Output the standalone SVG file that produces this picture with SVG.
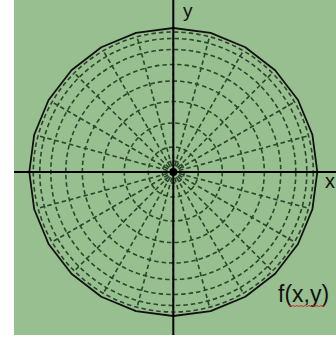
<svg xmlns="http://www.w3.org/2000/svg" width="336" height="337" viewBox="0 0 336 337">
<style>
.ring{fill:none;stroke:#2b472b;stroke-width:1.6;stroke-dasharray:4.5 3}
.ray{stroke:#2b472b;stroke-width:1.6;stroke-dasharray:4.5 3}
.axis{stroke:#000;stroke-width:2}
.lbl{font-family:"Liberation Sans",Arial,sans-serif;fill:#111}
</style>
<rect width="336" height="337" fill="#fff"/>
<rect x="14" y="0" width="322" height="335" fill="#98bf8f"/>
<g id="rings">
<circle class="ring" cx="173.3" cy="172" r="11" stroke-width="1.2" stroke-dasharray="2 1.5"/>
<circle class="ring" cx="173.3" cy="172" r="25"/>
<circle class="ring" cx="173.3" cy="172" r="49"/>
<circle class="ring" cx="173.3" cy="172" r="70.5"/>
<circle class="ring" cx="173.3" cy="172" r="91"/>
<circle class="ring" cx="173.3" cy="172" r="107.5"/>
<circle class="ring" cx="173.3" cy="172" r="122.5"/>
<circle class="ring" cx="173.3" cy="172" r="133.5"/>
<circle class="ring" cx="173.3" cy="172" r="140"/>
</g>
<g id="rays" transform="translate(173.3,172)">
<line class="ray" x1="6" y1="0" x2="141" y2="0"/>
<line class="ray" x1="6" y1="0" x2="141" y2="0" transform="rotate(15)"/>
<line class="ray" x1="6" y1="0" x2="141" y2="0" transform="rotate(30)"/>
<line class="ray" x1="6" y1="0" x2="141" y2="0" transform="rotate(45)"/>
<line class="ray" x1="6" y1="0" x2="141" y2="0" transform="rotate(60)"/>
<line class="ray" x1="6" y1="0" x2="141" y2="0" transform="rotate(75)"/>
<line class="ray" x1="6" y1="0" x2="141" y2="0" transform="rotate(90)"/>
<line class="ray" x1="6" y1="0" x2="141" y2="0" transform="rotate(105)"/>
<line class="ray" x1="6" y1="0" x2="141" y2="0" transform="rotate(120)"/>
<line class="ray" x1="6" y1="0" x2="141" y2="0" transform="rotate(135)"/>
<line class="ray" x1="6" y1="0" x2="141" y2="0" transform="rotate(150)"/>
<line class="ray" x1="6" y1="0" x2="141" y2="0" transform="rotate(165)"/>
<line class="ray" x1="6" y1="0" x2="141" y2="0" transform="rotate(180)"/>
<line class="ray" x1="6" y1="0" x2="141" y2="0" transform="rotate(195)"/>
<line class="ray" x1="6" y1="0" x2="141" y2="0" transform="rotate(210)"/>
<line class="ray" x1="6" y1="0" x2="141" y2="0" transform="rotate(225)"/>
<line class="ray" x1="6" y1="0" x2="141" y2="0" transform="rotate(240)"/>
<line class="ray" x1="6" y1="0" x2="141" y2="0" transform="rotate(255)"/>
<line class="ray" x1="6" y1="0" x2="141" y2="0" transform="rotate(270)"/>
<line class="ray" x1="6" y1="0" x2="141" y2="0" transform="rotate(285)"/>
<line class="ray" x1="6" y1="0" x2="141" y2="0" transform="rotate(300)"/>
<line class="ray" x1="6" y1="0" x2="141" y2="0" transform="rotate(315)"/>
<line class="ray" x1="6" y1="0" x2="141" y2="0" transform="rotate(330)"/>
<line class="ray" x1="6" y1="0" x2="141" y2="0" transform="rotate(345)"/>
</g>
<polygon id="boundary" fill="none" stroke="#111" stroke-width="1.8" stroke-linejoin="round" points="317.3,172 312.39,134.73 298.01,100 275.12,70.18 245.3,47.29 210.57,32.91 173.3,28 136.03,32.91 101.3,47.29 71.48,70.18 48.59,100 34.21,134.73 29.3,172 34.21,209.27 48.59,244 71.48,273.82 101.3,296.71 136.03,311.09 173.3,316 210.57,311.09 245.3,296.71 275.12,273.82 298.01,244 312.39,209.27"/>
<g id="axes">
<line class="axis" x1="173.3" y1="0" x2="173.3" y2="335"/>
<line class="axis" x1="14" y1="172" x2="336" y2="172"/>
<circle cx="173.3" cy="172" r="4" fill="#000"/>
</g>
<g id="labels">
<text class="lbl" x="183" y="17" font-size="19">y</text>
<text class="lbl" x="325" y="188" font-size="20">x</text>
<text class="lbl" x="278" y="302" font-size="23">f(x,y)</text>
<path d="M289,305.5 l2,1 l2,-1 l2,1 l2,-1 l2,1 l2,-1 l2,1 l2,-1 l2,1 l2,-1 l2,1 l2,-1 l2,1 l2,-1 l2,1 l2,-1 l2,1 l2,-1" fill="none" stroke="#d03030" stroke-width="1"/>
</g>
</svg>
